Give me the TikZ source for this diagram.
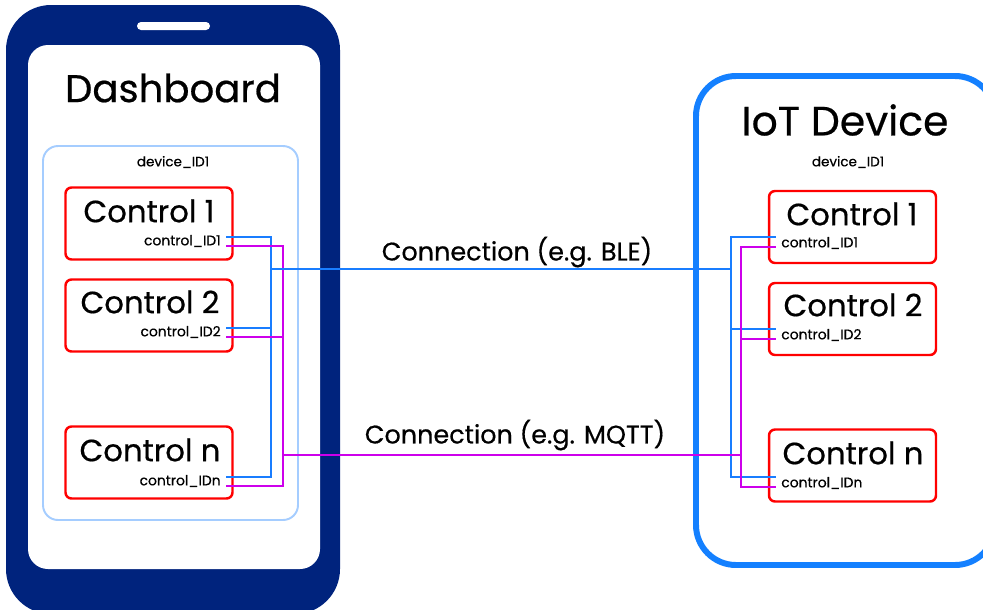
\documentclass[tikz,border=0pt]{standalone}
\usepackage{fontspec}
\setmainfont{Poppins}[FakeBold=0.5]
\usepackage{tikz}

\definecolor{phonenavy}{RGB}{0,35,125}
\definecolor{screenblue}{RGB}{165,205,255}
\definecolor{iotblue}{RGB}{20,128,255}
\definecolor{ctrlred}{RGB}{255,0,0}
\definecolor{bleblue}{RGB}{25,125,255}
\definecolor{mqttpurple}{RGB}{205,0,235}

\tikzset{
  ctrlbox/.style={draw=ctrlred, line width=1.4pt, rounded corners=0.12cm,
    minimum width=3.34cm, minimum height=1.44cm, inner sep=0pt},
  ctrltitle/.style={font=\fontsize{17.5}{17.5}\selectfont, inner sep=0pt},
  idtext/.style={font=\fontsize{7.9}{7.9}\selectfont, inner sep=0pt},
  devtext/.style={font=\fontsize{7.7}{7.7}\selectfont, inner sep=0pt},
  bigtitle/.style={font=\fontsize{22}{22}\selectfont, inner sep=0pt},
  linktext/.style={font=\fontsize{14.5}{14.5}\selectfont, inner sep=0pt},
  bleline/.style={draw=bleblue, line width=1pt},
  mqttline/.style={draw=mqttpurple, line width=1pt},
}

\begin{document}
\begin{tikzpicture}[x=0.02cm,y=-0.02cm]
\useasboundingbox (0,0) rectangle (983,609);
\clip (0,0) rectangle (983,609);

% phone
\fill[phonenavy, rounded corners=0.9cm] (6,5) rectangle (340,614);
\fill[white, rounded corners=0.4cm] (28,45) rectangle (320,569);
\fill[white, rounded corners=0.08cm] (137,22) rectangle (210,30);
\node[bigtitle] (dash) at (173,88) {Dashboard};
\draw[screenblue, line width=1.1pt, rounded corners=0.3cm] (43,146) rectangle (298,520);
\node[devtext] (ldev) at (173,162) {device\_ID1};

% iot device
\draw[iotblue, line width=3.4pt, rounded corners=0.8cm] (696,76) rectangle (995,565);
\node[bigtitle, font=\fontsize{23.3}{23.3}\selectfont] (iot) at (845,120) {IoT Device};
\node[devtext] (rdev) at (848,162) {device\_ID1};

% controls on the dashboard
\node[ctrlbox] (lc1) at (149,223.5) {};
\node[ctrlbox] (lc2) at (149,315.5) {};
\node[ctrlbox] (lcn) at (149,462.5) {};
\node[ctrltitle] at (149,211) {Control 1};
\node[ctrltitle] at (150,302) {Control 2};
\node[ctrltitle] at (150,450) {Control n};
\node[idtext, anchor=east] (lid1) at (221,241) {control\_ID1};
\node[idtext, anchor=east] (lid2) at (221,332) {control\_ID2};
\node[idtext, anchor=east] (lidn) at (221,481) {control\_IDn};

% controls on the device
\node[ctrlbox] (rc1) at (852.5,227) {};
\node[ctrlbox] (rc2) at (852.5,319) {};
\node[ctrlbox] (rcn) at (852.5,465.5) {};
\node[ctrltitle] at (852,214) {Control 1};
\node[ctrltitle] at (853,305) {Control 2};
\node[ctrltitle] at (853,453) {Control n};
\node[idtext, anchor=west] (rid1) at (781,243) {control\_ID1};
\node[idtext, anchor=west] (rid2) at (781,335) {control\_ID2};
\node[idtext, anchor=west] (ridn) at (781,483) {control\_IDn};

% buses
\coordinate (lb) at (271,269);
\coordinate (lm) at (283,455);
\coordinate (rb) at (731,269);
\coordinate (rm) at (741,455);

\draw[bleline] ([xshift=3pt,yshift=2.3pt]lid1.east) -| (lb);
\draw[bleline] ([xshift=3pt,yshift=2.3pt]lid2.east) -| (lb);
\draw[bleline] ([xshift=3pt,yshift=2.3pt]lidn.east) -| (lb);
\draw[mqttline] ([xshift=3pt,yshift=-2.8pt]lid1.east) -| (lm);
\draw[mqttline] ([xshift=3pt,yshift=-2.8pt]lid2.east) -| (lm);
\draw[mqttline] ([xshift=3pt,yshift=-2.8pt]lidn.east) -| (lm);

\draw[bleline] ([xshift=-3pt,yshift=3.4pt]rid1.west) -| (rb);
\draw[bleline] ([xshift=-3pt,yshift=3.4pt]rid2.west) -| (rb);
\draw[bleline] ([xshift=-3pt,yshift=3.4pt]ridn.west) -| (rb);
\draw[mqttline] ([xshift=-3pt,yshift=-2.2pt]rid1.west) -| (rm);
\draw[mqttline] ([xshift=-3pt,yshift=-2.2pt]rid2.west) -| (rm);
\draw[mqttline] ([xshift=-3pt,yshift=-2.2pt]ridn.west) -| (rm);

\draw[bleline] (lb) -- (rb);
\draw[mqttline] (lm) -- (rm);
\node[linktext] (ble) at (517,252) {Connection (e.g. BLE)};
\node[linktext] (mqtt) at (515,435) {Connection (e.g. MQTT)};
\end{tikzpicture}
\end{document}
